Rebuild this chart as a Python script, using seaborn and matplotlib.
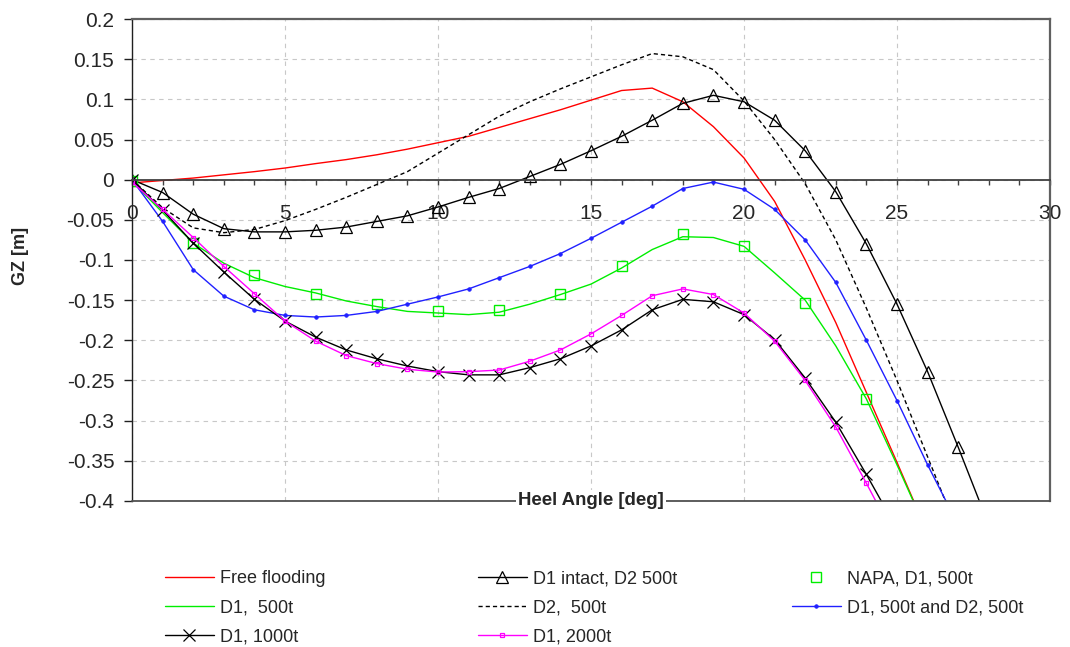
import matplotlib
matplotlib.use("Agg")
import matplotlib.pyplot as plt
from matplotlib.ticker import MultipleLocator, FuncFormatter
import seaborn as sns

# GZ curves (heel angle in degrees, GZ in metres)
angles_ff = list(range(0, 27))
free_flooding = [-0.004, -0.001, 0.002, 0.006, 0.010, 0.0145, 0.020, 0.025, 0.031, 0.038,
                 0.046, 0.054, 0.065, 0.076, 0.087, 0.099, 0.111, 0.114, 0.097, 0.066,
                 0.027, -0.027, -0.100, -0.178, -0.265, -0.352, -0.44]

angles_intact = list(range(0, 29))
d1_intact_d2 = [0.0, -0.016, -0.043, -0.061, -0.065, -0.065, -0.063, -0.059, -0.052, -0.045,
                -0.034, -0.022, -0.011, 0.004, 0.019, 0.036, 0.054, 0.074, 0.095, 0.105,
                0.097, 0.074, 0.036, -0.015, -0.080, -0.155, -0.239, -0.333, -0.43]

angles_napa = list(range(0, 25, 2))
napa_d1 = [-0.002, -0.079, -0.119, -0.142, -0.155, -0.164, -0.162, -0.142, -0.108, -0.0675,
           -0.083, -0.153, -0.273]

angles_d1 = list(range(0, 27))
d1_500 = [-0.002, -0.041, -0.079, -0.104, -0.122, -0.133, -0.141, -0.151, -0.158, -0.164,
          -0.166, -0.168, -0.165, -0.155, -0.143, -0.130, -0.110, -0.087, -0.071, -0.072,
          -0.083, -0.116, -0.150, -0.207, -0.273, -0.355, -0.44]

angles_d2 = list(range(0, 28))
d2_500 = [0.0, -0.035, -0.060, -0.066, -0.062, -0.051, -0.037, -0.022, -0.006, 0.010,
          0.033, 0.056, 0.079, 0.097, 0.113, 0.128, 0.143, 0.157, 0.153, 0.137,
          0.098, 0.050, -0.005, -0.075, -0.160, -0.250, -0.345, -0.44]

angles_both = list(range(0, 28))
d1_d2_500 = [0.0, -0.052, -0.112, -0.145, -0.162, -0.169, -0.171, -0.169, -0.164, -0.155,
             -0.146, -0.136, -0.122, -0.108, -0.092, -0.073, -0.053, -0.033, -0.011, -0.003,
             -0.012, -0.037, -0.075, -0.128, -0.200, -0.275, -0.355, -0.43]

angles_heavy = list(range(0, 26))
d1_1000 = [0.0, -0.038, -0.079, -0.115, -0.149, -0.176, -0.196, -0.212, -0.223, -0.232,
           -0.239, -0.243, -0.243, -0.234, -0.223, -0.207, -0.187, -0.162, -0.149, -0.152,
           -0.168, -0.199, -0.247, -0.302, -0.367, -0.435]
d1_2000 = [-0.003, -0.037, -0.072, -0.108, -0.142, -0.176, -0.201, -0.219, -0.229, -0.236,
           -0.2395, -0.239, -0.237, -0.226, -0.212, -0.192, -0.169, -0.1445, -0.136, -0.143,
           -0.166, -0.201, -0.250, -0.308, -0.378, -0.45]

sns.set_style("white")
plt.rcParams['font.family'] = ['Liberation Sans', 'DejaVu Sans']

fig, ax = plt.subplots(figsize=(10.7, 6.47), dpi=100)
fig.subplots_adjust(left=0.1234, right=0.9813, bottom=0.2257, top=0.9706)

lw = 1.0
sns.lineplot(x=angles_ff, y=free_flooding, ax=ax, color='#ff0000', lw=lw,
             label='Free flooding', legend=False)
sns.lineplot(x=angles_intact, y=d1_intact_d2, ax=ax, color='black', lw=lw,
             marker='^', markersize=8, markerfacecolor='none', markeredgecolor='black',
             markeredgewidth=0.9, label='D1 intact, D2 500t', legend=False)
sns.lineplot(x=angles_napa, y=napa_d1, ax=ax, color='#00ee00', linestyle='none',
             marker='s', markersize=6.5, markerfacecolor='none', markeredgecolor='#00ee00',
             markeredgewidth=1.0, label='NAPA, D1, 500t', legend=False)
sns.lineplot(x=angles_d1, y=d1_500, ax=ax, color='#00ee00', lw=lw,
             label='D1,  500t', legend=False)
sns.lineplot(x=angles_d2, y=d2_500, ax=ax, color='black', lw=lw, linestyle=(0, (3, 2.2)),
             label='D2,  500t', legend=False)
sns.lineplot(x=angles_both, y=d1_d2_500, ax=ax, color='#2020ff', lw=lw,
             marker='o', markersize=2.6, markerfacecolor='#2020ff', markeredgecolor='#2020ff',
             markeredgewidth=0.5, label='D1, 500t and D2, 500t', legend=False)
sns.lineplot(x=angles_heavy, y=d1_1000, ax=ax, color='black', lw=lw,
             marker='x', markersize=8, markeredgecolor='black', markeredgewidth=0.9,
             label='D1, 1000t', legend=False)
sns.lineplot(x=angles_heavy, y=d1_2000, ax=ax, color='#ff00ff', lw=lw,
             marker='s', markersize=3.5, markerfacecolor='none', markeredgecolor='#ff00ff',
             markeredgewidth=0.9, label='D1, 2000t', legend=False)

ax.set_xlim(0, 30)
ax.set_ylim(-0.4, 0.2)

# x axis runs along GZ = 0
ax.spines['bottom'].set_position(('data', 0))
ax.spines['bottom'].set_color('#404040')
ax.spines['bottom'].set_linewidth(1.3)
ax.spines['left'].set_color('#202020')
ax.spines['left'].set_linewidth(1.0)
for side in ['top', 'right']:
    ax.spines[side].set_color('#606060')
    ax.spines[side].set_linewidth(1.6)
ax.axhline(-0.4, color='#505050', lw=1.3, clip_on=False, zorder=2.6)

ax.xaxis.set_major_locator(MultipleLocator(5))
ax.xaxis.set_minor_locator(MultipleLocator(1))
ax.yaxis.set_major_locator(MultipleLocator(0.05))


def gz_fmt(v, pos):
    v = round(v, 3)
    if abs(v) < 1e-9:
        return '0'
    return f"{v:.2f}".rstrip('0').rstrip('.')


ax.yaxis.set_major_formatter(FuncFormatter(gz_fmt))
ax.tick_params(axis='x', which='both', direction='out', length=3.6, width=1,
               color='#404040', bottom=True)
ax.tick_params(axis='x', which='major', pad=14, labelsize=15)
ax.tick_params(axis='y', direction='out', length=5.8, width=1, color='#202020',
               left=True, pad=7, labelsize=15)

ax.grid(True, which='major', color='#c8c8c8', linestyle=(0, (4, 4)), lw=0.8)
ax.set_axisbelow(True)

ax.set_xlabel('')
ax.set_ylabel('GZ [m]', fontsize=13, fontweight='bold')
ax.yaxis.set_label_coords(-0.112, 0.508)
ax.text(15, -0.4, 'Heel Angle [deg]', ha='center', va='center', fontsize=13.4,
        fontweight='bold', bbox=dict(fc='white', ec='none', pad=1.5), zorder=5)

# legend: three equally spaced columns below the plot
handles, labels = ax.get_legend_handles_labels()
by_label = dict(zip(labels, handles))
columns = [["Free flooding", "D1,  500t", "D1, 1000t"],
           ["D1 intact, D2 500t", "D2,  500t", "D1, 2000t"],
           ["NAPA, D1, 500t", "D1, 500t and D2, 500t"]]
col_x = [0.1542, 0.4467, 0.7402]
for names, x0 in zip(columns, col_x):
    fig.legend([by_label[n] for n in names], names, loc='upper left',
               bbox_to_anchor=(x0, 0.119), frameon=False, fontsize=13,
               borderpad=0, borderaxespad=0, handlelength=2.7, handletextpad=0.35,
               labelspacing=0.67)

fig.savefig('out.png', dpi=100)
